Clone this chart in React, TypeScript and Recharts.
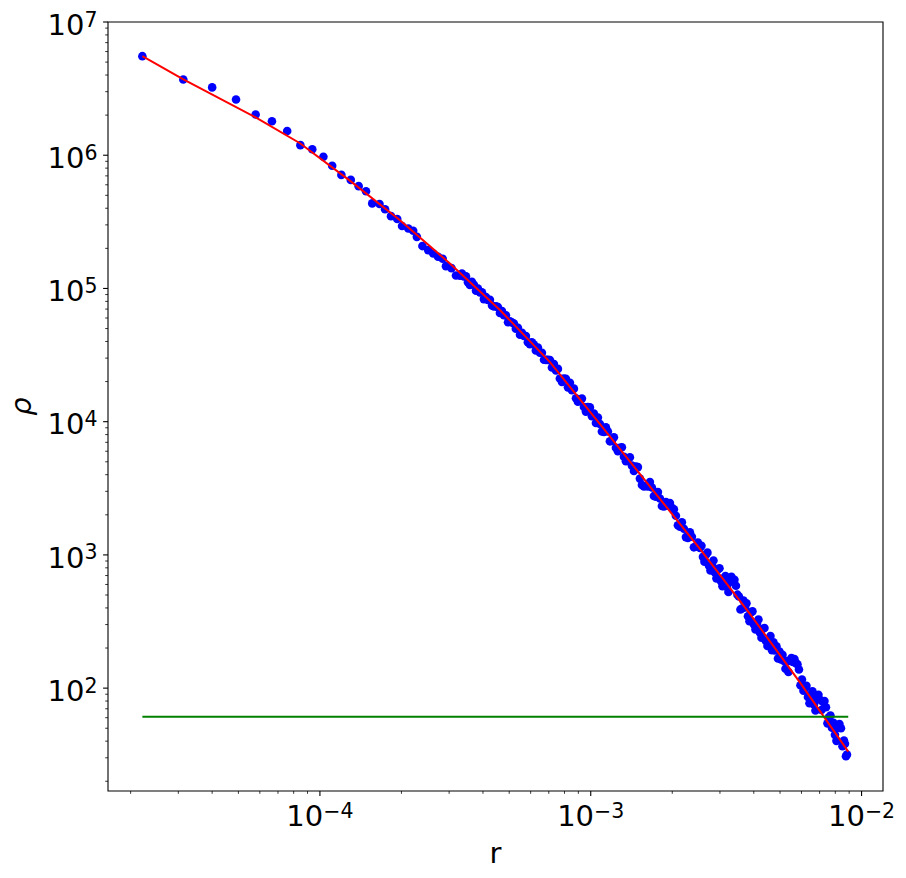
import { ScatterChart, Scatter, XAxis, YAxis, ReferenceArea } from 'recharts';

// binned density profile (r, rho)
const rValues = [
  2.21e-5, 3.13e-5, 4.0e-5, 4.9e-5, 5.79e-5, 6.65e-5, 7.57e-5, 8.47e-5, 9.37e-5, 1.03e-4,
  1.11e-4, 1.2e-4, 1.3e-4, 1.39e-4, 1.48e-4, 1.56e-4, 1.66e-4, 1.74e-4, 1.83e-4, 1.93e-4,
  2.01e-4, 2.12e-4, 2.21e-4, 2.28e-4, 2.39e-4, 2.51e-4, 2.62e-4, 2.73e-4, 2.84e-4, 2.92e-4,
  3.06e-4, 3.18e-4,
  3.29e-4, 3.4e-4, 3.52e-4, 3.64e-4, 3.77e-4, 3.9e-4, 4.03e-4, 4.17e-4, 4.32e-4, 4.47e-4,
  4.62e-4, 4.78e-4, 4.95e-4, 5.12e-4, 5.29e-4, 5.48e-4, 5.67e-4, 5.86e-4, 6.06e-4, 6.27e-4,
  6.49e-4, 6.72e-4, 6.95e-4, 7.19e-4, 7.44e-4, 7.69e-4, 7.96e-4, 8.24e-4, 8.52e-4, 8.82e-4,
  9.12e-4, 9.44e-4, 9.76e-4, 1.01e-3, 1.045e-3, 1.081e-3, 1.119e-3, 1.157e-3, 1.197e-3, 1.239e-3,
  1.282e-3, 1.326e-3, 1.372e-3, 1.419e-3, 1.468e-3, 1.519e-3, 1.572e-3, 1.626e-3, 1.682e-3, 1.74e-3,
  1.801e-3, 1.863e-3, 1.927e-3, 1.994e-3, 2.063e-3, 2.134e-3, 2.208e-3, 2.284e-3, 2.363e-3, 2.445e-3,
  2.531e-3,
  2.596e-3, 2.663e-3, 2.732e-3, 2.803e-3, 2.875e-3, 2.95e-3, 3.026e-3, 3.104e-3, 3.184e-3, 3.266e-3,
  3.351e-3, 3.437e-3, 3.526e-3, 3.617e-3, 3.711e-3, 3.807e-3, 3.905e-3, 4.006e-3, 4.109e-3, 4.216e-3,
  4.324e-3, 4.436e-3, 4.551e-3, 4.668e-3, 4.789e-3, 4.913e-3, 5.04e-3, 5.17e-3, 5.303e-3, 5.44e-3,
  5.581e-3, 5.725e-3, 5.873e-3, 6.025e-3, 6.18e-3, 6.34e-3, 6.504e-3, 6.672e-3, 6.844e-3, 7.021e-3,
  7.202e-3, 7.389e-3, 7.579e-3, 7.775e-3, 7.976e-3, 8.182e-3, 8.394e-3, 8.61e-3, 8.684e-3, 8.758e-3,
  8.833e-3,
  // in-between bins of the dense part
  3.345e-4, 3.461e-4, 3.58e-4, 3.704e-4, 3.832e-4, 3.965e-4, 4.102e-4, 4.244e-4, 4.391e-4, 4.542e-4,
  4.7e-4, 4.862e-4, 5.03e-4, 5.204e-4, 5.384e-4, 5.571e-4, 5.763e-4, 5.963e-4, 6.169e-4, 6.382e-4,
  6.603e-4, 6.831e-4, 7.068e-4, 7.312e-4, 7.565e-4, 7.827e-4, 8.097e-4, 8.378e-4, 8.667e-4, 8.967e-4,
  9.277e-4, 9.598e-4, 9.93e-4, 1.0274e-3, 1.0629e-3, 1.0997e-3, 1.1377e-3, 1.1771e-3, 1.2178e-3, 1.2599e-3,
  1.3035e-3, 1.3486e-3, 1.3952e-3, 1.4435e-3, 1.4934e-3, 1.5451e-3, 1.5985e-3, 1.6538e-3, 1.711e-3, 1.7702e-3,
  1.8314e-3, 1.8948e-3, 1.9603e-3, 2.0281e-3, 2.0983e-3, 2.1709e-3, 2.246e-3, 2.3237e-3, 2.404e-3, 2.4872e-3,
  2.5635e-3, 2.6293e-3, 2.6972e-3, 2.7671e-3, 2.839e-3, 2.9119e-3, 2.9879e-3, 3.0649e-3, 3.1439e-3, 3.2249e-3,
  3.3079e-3, 3.394e-3, 3.4811e-3, 3.5713e-3, 3.6634e-3, 3.7586e-3, 3.8559e-3, 3.9551e-3, 4.0574e-3, 4.1618e-3,
  4.2701e-3, 4.3795e-3, 4.493e-3, 4.6094e-3, 4.7279e-3, 4.8505e-3, 4.9761e-3, 5.1047e-3, 5.2364e-3, 5.3711e-3,
  5.5098e-3, 5.6527e-3, 5.7985e-3, 5.9484e-3, 6.1024e-3, 6.2594e-3, 6.4214e-3, 6.5875e-3, 6.7577e-3, 6.9319e-3,
  7.1111e-3, 7.2945e-3, 7.4839e-3, 7.6763e-3, 7.8748e-3, 8.0784e-3, 8.2871e-3, 8.5018e-3,
];

const rhoValues = [
  5.54e6, 3.7e6, 3.23e6, 2.62e6, 2.02e6, 1.8e6, 1.52e6, 1.19e6, 1.11e6, 9.73e5,
  8.33e5, 7.12e5, 6.53e5, 5.86e5, 5.36e5, 4.35e5, 4.3e5, 3.93e5, 3.49e5, 3.32e5,
  2.94e5, 2.82e5, 2.71e5, 2.44e5, 2.08e5, 1.94e5, 1.83e5, 1.73e5, 1.67e5, 1.47e5,
  1.42e5, 1.25e5,
  1.247e5, 1.231e5, 1.115e5, 1.12e5, 9.63e4, 9.35e4, 8.32e4, 8.21e4, 7.44e4, 7.35e4,
  6.54e4, 6.3e4, 5.57e4, 5.55e4, 4.99e4, 4.49e4, 4.4e4, 3.95e4, 3.94e4, 3.42e4,
  3.3e4, 2.92e4, 2.91e4, 2.55e4, 2.42e4, 2.11e4, 2.11e4, 1.81e4, 1.72e4, 1.5e4,
  1.47e4, 1.29e4, 1.29e4, 1.1e4, 9.77e3, 9.61e3, 8.38e3, 8.45e3, 7.18e3, 6.37e3,
  6.37e3, 5.46e3, 5.27e3, 4.68e3, 4.6e3, 3.74e3, 3.26e3, 3.26e3, 3.21e3, 2.74e3,
  2.65e3, 2.31e3, 2.34e3, 2.26e3, 1.97e3, 1.63e3, 1.57e3, 1.34e3, 1.37e3, 1.15e3,
  1.13e3,
  967, 1003, 831, 847, 739, 780, 635, 670, 574, 627,
  639, 587, 487, 396, 404, 346, 371, 301, 305, 261,
  279, 226, 229, 193, 192, 167, 164, 160, 160, 160,
  157, 154, 138, 116, 100, 85.8, 88.4, 75.4, 83.4, 81.7,
  78.6, 71.9, 60.3, 50.5, 44.6, 50.2, 50.0, 40.5, 38.2, 30.8,
  31.7,
  // in-between bins of the dense part
  1.293e5, 1.234e5, 1.061e5, 1.066e5, 9.99e4, 9.37e4, 8.63e4, 8.23e4, 7.33e4, 7.24e4,
  6.76e4, 6.29e4, 5.66e4, 5.45e4, 5.07e4, 4.64e4, 4.39e4, 3.81e4, 3.8e4, 3.6e4,
  3.29e4, 2.91e4, 2.9e4, 2.71e4, 2.49e4, 1.99e4, 2.1e4, 1.96e4, 1.77e4, 1.41e4,
  1.49e4, 1.19e4, 1.28e4, 1.15e4, 1.075e4, 8.45e3, 9.06e3, 7.12e3, 7.63e3, 6.0e3,
  6.43e3, 5.05e3, 5.41e3, 4.26e3, 4.56e3, 3.35e3, 3.29e3, 3.53e3, 2.77e3, 2.96e3,
  2.33e3, 2.49e3, 2.45e3, 2.2e3, 1.67e3, 1.76e3, 1.36e3, 1.48e3, 1.14e3, 1.24e3,
  1170, 888, 1040, 763, 908, 667, 794, 583, 694, 527,
  684, 651, 503, 389, 455, 433, 318, 377, 276, 327,
  239, 283, 207, 246, 221, 206, 188, 178, 140, 132,
  168, 165, 151, 105, 95.6, 104, 77.1, 94.6, 67.9, 89.2,
  68.6, 79.9, 54.4, 62.3, 55.0, 40.2, 53.7, 36.6,
];

// fitted profile (red)
const fitR = [2.21e-5, 3.12e-5, 5.79e-5, 8.44e-5, 1.29e-4, 1.97e-4, 3.02e-4, 4.62e-4, 7.07e-4, 1.08e-3, 1.65e-3, 2.53e-3, 3.87e-3, 5.93e-3, 8.93e-3];
const fitRho = [5.54e6, 3.72e6, 1.92e6, 1.23e6, 6.45e5, 3.26e5, 1.54e5, 6.89e4, 2.8e4, 9.61e3, 3.29e3, 1.11e3, 361, 110, 33.4];

// background level (green)
const floorR = [2.21e-5, 8.93e-3];
const floorRho = [61, 61];

const xTicks = [
  2e-5, 3e-5, 4e-5, 5e-5, 6e-5, 7e-5, 8e-5, 9e-5, 1e-4,
  2e-4, 3e-4, 4e-4, 5e-4, 6e-4, 7e-4, 8e-4, 9e-4, 1e-3,
  2e-3, 3e-3, 4e-3, 5e-3, 6e-3, 7e-3, 8e-3, 9e-3, 1e-2,
];
const yTicks = [
  20, 30, 40, 50, 60, 70, 80, 90, 100,
  200, 300, 400, 500, 600, 700, 800, 900, 1e3,
  2e3, 3e3, 4e3, 5e3, 6e3, 7e3, 8e3, 9e3, 1e4,
  2e4, 3e4, 4e4, 5e4, 6e4, 7e4, 8e4, 9e4, 1e5,
  2e5, 3e5, 4e5, 5e5, 6e5, 7e5, 8e5, 9e5, 1e6,
  2e6, 3e6, 4e6, 5e6, 6e6, 7e6, 8e6, 9e6, 1e7,
];
const xDomain = [1.65e-5, 1.2e-2];
const yDomain = [16.9, 1e7];

const FONT = 'DejaVu Sans';

const points = rValues.map((r, i) => ({ r, rho: rhoValues[i] }));
const fitData = fitR.map((r, i) => ({ r, rho: fitRho[i] }));
const floorData = floorR.map((r, i) => ({ r, rho: floorRho[i] }));

const isMajor = (v: number) => Math.abs(Math.log10(v) - Math.round(Math.log10(v))) < 1e-6;
const expText = (v: number) => {
  const e = Math.round(Math.log10(v));
  return e < 0 ? '\u2212' + Math.abs(e) : String(e);
};

const XTick = ({ x, y, payload }: any) => {
  const major = isMajor(payload.value);
  return (
    <g>
      <line x1={x} x2={x} y1={y} y2={y + (major ? 4.9 : 2.8)} stroke="#000" strokeWidth={major ? 1.1 : 0.8} />
      {major && (
        <text x={x} y={y + 35.4} textAnchor="middle" fontSize={29} fontFamily={FONT} fill="#000">
          10<tspan dy={-8.3} fontSize={20.5}>{expText(payload.value)}</tspan>
        </text>
      )}
    </g>
  );
};

const YTick = ({ x, y, payload }: any) => {
  const major = isMajor(payload.value);
  return (
    <g>
      <line x1={x} x2={x - (major ? 4.9 : 2.8)} y1={y} y2={y} stroke="#000" strokeWidth={major ? 1.1 : 0.8} />
      {major && (
        <text x={x - 10.5} y={y + 12.8} textAnchor="end" fontSize={29} fontFamily={FONT} fill="#000">
          10<tspan dy={-8.3} fontSize={20.5}>{expText(payload.value)}</tspan>
        </text>
      )}
    </g>
  );
};

const Dot = (props: any) => <circle cx={props.cx} cy={props.cy} r={4.3} fill="#0000ff" />;
const NoDot = () => <g />;

export default function App() {
  return (
    <div style={{ margin: -8, width: 906, height: 878 }}>
      <ScatterChart
        width={906}
        height={878}
        margin={{ top: 22, right: 23, bottom: 15, left: 8 }}
        style={{ fontFamily: FONT, background: '#fff' }}
      >
        <XAxis
          type="number"
          dataKey="r"
          scale="log"
          domain={xDomain}
          allowDataOverflow
          ticks={xTicks}
          interval={0}
          height={72}
          tickSize={0}
          tickMargin={0}
          tickLine={false}
          axisLine={false}
          tick={<XTick />}
          label={() => (
            <text x={495.5} y={862.7} textAnchor="middle" fontSize={29} fontFamily={FONT} fill="#000">r</text>
          )}
        />
        <YAxis
          type="number"
          dataKey="rho"
          scale="log"
          domain={yDomain}
          allowDataOverflow
          ticks={yTicks}
          interval={0}
          width={100}
          tickSize={0}
          tickMargin={0}
          tickLine={false}
          axisLine={false}
          tick={<YTick />}
          label={() => (
            <text
              x={30.7}
              y={406.5}
              transform="rotate(-90 30.7 406.5)"
              textAnchor="middle"
              fontSize={29}
              fontStyle="italic"
              fontFamily={FONT}
              fill="#000"
            >
              ρ
            </text>
          )}
        />
        <ReferenceArea
          x1={xDomain[0]}
          x2={xDomain[1]}
          y1={yDomain[0]}
          y2={yDomain[1]}
          fill="none"
          stroke="#000"
          strokeWidth={1.1}
          ifOverflow="visible"
        />
        <Scatter data={points} shape={<Dot />} isAnimationActive={false} />
        <Scatter data={fitData} fill="#ff0000" line={{ stroke: '#ff0000', strokeWidth: 2 }} shape={<NoDot />} isAnimationActive={false} />
        <Scatter data={floorData} fill="#008000" line={{ stroke: '#008000', strokeWidth: 2 }} shape={<NoDot />} isAnimationActive={false} />
      </ScatterChart>
    </div>
  );
}
